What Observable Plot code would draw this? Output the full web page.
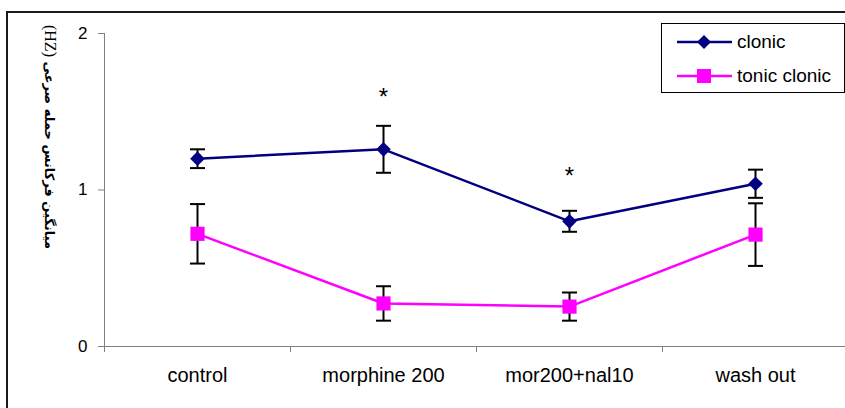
<!DOCTYPE html>
<html><head><meta charset="utf-8">
<script src="https://cdn.jsdelivr.net/npm/d3@7"></script>
<script src="https://cdn.jsdelivr.net/npm/@observablehq/plot@0.6"></script>
<style>
html,body{margin:0;padding:0;background:#fff;overflow:hidden;width:845px;height:408px;}
#wrap{position:relative;width:845px;height:408px;font-family:"Liberation Sans",Arial,sans-serif;}
#frame{position:absolute;left:6px;top:11px;width:900px;height:500px;border:2px solid #1a1a1a;box-sizing:border-box;}
#chart{position:absolute;left:0;top:0;}
#ylabel{position:absolute;left:-70px;top:124px;width:240px;height:26px;line-height:26px;transform:rotate(90deg);transform-origin:50% 50%;text-align:center;direction:rtl;white-space:nowrap;font-family:"DejaVu Sans",sans-serif;font-weight:bold;font-size:13px;color:#000;}
#ylabel .unit{direction:ltr;unicode-bidi:isolate;font-family:"Liberation Serif",serif;font-weight:normal;font-size:16px;}
#legend{position:absolute;left:661px;top:23px;width:184px;height:70px;border:1px solid #000;background:#fff;box-sizing:border-box;}
.lrow{position:absolute;left:0;height:24px;width:180px;}
.lrow svg{position:absolute;left:14px;top:0;}
.lrow span{position:absolute;left:75px;top:0;line-height:24px;font-size:19px;white-space:nowrap;}
</style></head><body>
<div id="wrap"><div id="frame"></div><div id="chart"></div><div id="ylabel"></div><div id="legend"></div></div>
<script>
const categories = ["control", "morphine 200", "mor200+nal10", "wash out"];
const clonicMean = [1.20, 1.26, 0.80, 1.04];
const clonicErr = [0.06, 0.15, 0.067, 0.09];
const tonicMean = [0.72, 0.275, 0.255, 0.715];
const tonicErr = [0.19, 0.11, 0.09, 0.20];
const starCategories = ["morphine 200", "mor200+nal10"];
const starY = [1.595, 1.09];
const yTicks = [0, 1, 2];
const seriesNames = ["clonic", "tonic clonic"];
const seriesColors = ["#000080", "#FF00FF"];
const seriesSymbols = ["diamond2", "square"];
const yLabelText = "میانگین فرکانس حمله صرعی";
const yLabelUnit = "(HZ)";

const pos = c => categories.indexOf(c) + 0.5;
const clonicRows = categories.map((c, i) => ({pos: pos(c), v: clonicMean[i], lo: clonicMean[i] - clonicErr[i], hi: clonicMean[i] + clonicErr[i]}));
const tonicRows = categories.map((c, i) => ({pos: pos(c), v: tonicMean[i], lo: tonicMean[i] - tonicErr[i], hi: tonicMean[i] + tonicErr[i]}));
const allRows = clonicRows.concat(tonicRows);
const starRows = starCategories.map((c, i) => ({pos: pos(c), y: starY[i]}));
const cap = {draw(ctx, size) { const w = Math.sqrt(size / Math.PI); ctx.moveTo(-w, 0); ctx.lineTo(w, 0); }};

const plot = Plot.plot({
  width: 845, height: 408,
  marginLeft: 104, marginRight: 0, marginTop: 33, marginBottom: 62,
  style: {fontFamily: "'Liberation Sans', Arial, sans-serif", fontSize: "18px", background: "none", overflow: "visible", color: "#000"},
  x: {type: "linear", domain: [0, categories.length], range: [104, 848], axis: null, label: null},
  y: {domain: [0, 2], range: [346, 33], axis: null, label: null},
  marks: [
    Plot.ruleX([0], {stroke: "#808080", strokeWidth: 1}),
    Plot.ruleY([0], {stroke: "#808080", strokeWidth: 1}),
    Plot.axisY({ticks: yTicks, tickSize: 6, tickPadding: 11, stroke: "#808080", fill: "#000", fontSize: 17, label: null, tickFormat: d3.format("d")}),
    Plot.axisX({ticks: d3.range(categories.length + 1), tickSize: 6, stroke: "#808080", label: null, tickFormat: () => ""}),
    Plot.axisX({ticks: categories.map(pos), tickSize: 0, tickPadding: 21, fill: "#000", fontSize: 20, label: null, tickFormat: d => categories[Math.floor(d)]}),
    Plot.ruleX(allRows, {x: "pos", y1: "lo", y2: "hi", stroke: "#000", strokeWidth: 2}),
    Plot.dot(allRows, {x: "pos", y: "lo", symbol: cap, r: 7.5, stroke: "#000", strokeWidth: 2, fill: "none"}),
    Plot.dot(allRows, {x: "pos", y: "hi", symbol: cap, r: 7.5, stroke: "#000", strokeWidth: 2, fill: "none"}),
    Plot.line(clonicRows, {x: "pos", y: "v", stroke: seriesColors[0], strokeWidth: 2.5}),
    Plot.line(tonicRows, {x: "pos", y: "v", stroke: seriesColors[1], strokeWidth: 2.5}),
    Plot.dot(clonicRows, {x: "pos", y: "v", symbol: seriesSymbols[0], r: 6.6, fill: seriesColors[0], stroke: "none"}),
    Plot.dot(tonicRows, {x: "pos", y: "v", symbol: seriesSymbols[1], r: 8, fill: seriesColors[1], stroke: "none"}),
    Plot.text(starRows, {x: "pos", y: "y", text: () => "*", fontSize: 24, fill: "#000", lineAnchor: "middle"})
  ]
});
document.getElementById("chart").appendChild(plot);
const yl = document.getElementById("ylabel");
yl.textContent = yLabelText + " ";
const unit = document.createElement("span");
unit.className = "unit";
unit.textContent = yLabelUnit;
yl.appendChild(unit);

const legend = document.getElementById("legend");
const rowTops = [6, 40];
seriesNames.forEach((name, i) => {
  const row = document.createElement("div");
  row.className = "lrow";
  row.style.top = rowTops[i] + "px";
  const marker = seriesSymbols[i] === "diamond2"
    ? `<path d="M28,5 L35,12 L28,19 L21,12 Z" fill="${seriesColors[i]}"/>`
    : `<rect x="21" y="5" width="14" height="14" fill="${seriesColors[i]}"/>`;
  row.innerHTML = `<svg width="58" height="24"><line x1="1" y1="12" x2="56" y2="12" stroke="${seriesColors[i]}" stroke-width="2.5"/>${marker}</svg><span>${name}</span>`;
  legend.appendChild(row);
});
</script>
</body></html>
